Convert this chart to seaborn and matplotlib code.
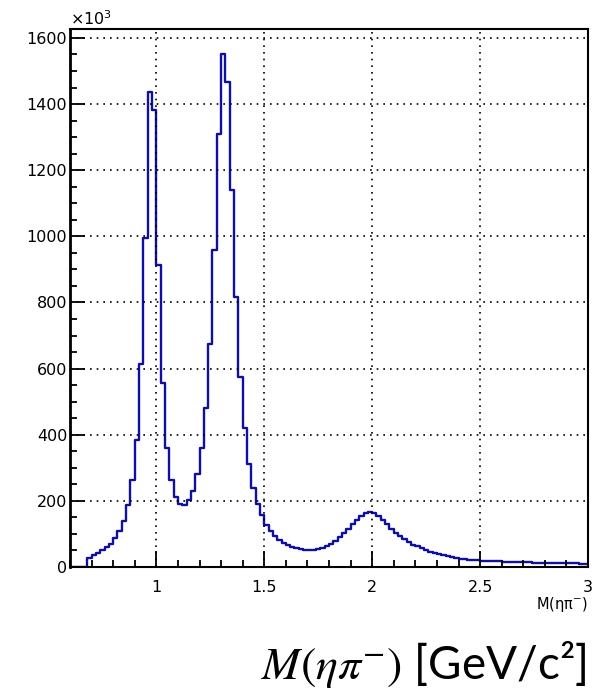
import numpy as np
import pandas as pd
import matplotlib
matplotlib.use("Agg")
import matplotlib.pyplot as plt
from matplotlib.ticker import MultipleLocator
import seaborn as sns

# ---- data (counts in units of 10^3, bins of 0.02 GeV from 0.60 to 3.00) ----
bin_lo = 0.60
bin_hi = 3.00
bin_w = 0.02
counts = [
    0, 0, 0, 0,
    28, 36, 43, 51, 60, 71, 88, 109, 139, 187, 262, 385,
    614, 995, 1435, 1382, 913, 555, 360, 264, 213, 192, 189, 202, 231, 280,
    359, 481, 674, 958, 1308, 1550, 1466, 1141, 817, 575, 419, 310, 240, 190,
    156, 128, 109,
    94, 82, 74, 66, 61, 57, 54, 52, 51, 52,
    54, 58, 63, 70, 79, 90, 102, 116, 130, 143,
    155, 162, 166, 162, 154, 142, 129, 115, 104, 94,
    84, 76, 68, 62, 56, 50, 46, 42, 38, 35,
    32, 29, 27, 25, 23, 22, 21, 20,
    19, 18.5, 18, 17.5, 17, 16.5, 16, 15.5, 15, 14.6, 14.2, 13.9, 13.6,
    13.3, 13, 12.7, 12.4, 12.1, 11.8, 11.5, 11.2, 11, 10.8, 10.5, 10.3,
]
x_ticks = [1, 1.5, 2, 2.5, 3]
x_tick_labels = ["1", "1.5", "2", "2.5", "3"]
y_ticks = [0, 200, 400, 600, 800, 1000, 1200, 1400, 1600]

n_bins = len(counts)
edges = [float(v) for v in bin_lo + bin_w * np.arange(n_bins + 1)]
centers = [0.5 * (a + b) for a, b in zip(edges[:-1], edges[1:])]
df = pd.DataFrame({"mass": centers, "count": counts})

sns.set_style("white")
plt.rcParams["font.family"] = ["DejaVu Sans"]
plt.rcParams["mathtext.fontset"] = "stix"
plt.rcParams["text.color"] = "black"
plt.rcParams["xtick.color"] = "black"
plt.rcParams["ytick.color"] = "black"

fig = plt.figure(figsize=(6.0, 6.92), dpi=100)
ax = fig.add_axes([70 / 600, 1 - 567 / 692, 518 / 600, 538 / 692])

line_color = "#1010a0"
sns.histplot(data=df, x="mass", weights="count", bins=edges, element="step",
             fill=False, color=line_color, linewidth=1.7, ax=ax)

ax.set_xlim(bin_lo, bin_hi)
ax.set_ylim(0, 1627)
ax.set_xlabel("")
ax.set_ylabel("")

ax.set_xticks(x_ticks)
ax.set_xticklabels(x_tick_labels)
ax.set_yticks(y_ticks)
ax.xaxis.set_minor_locator(MultipleLocator(0.1))
ax.yaxis.set_minor_locator(MultipleLocator(50))

ax.tick_params(axis="both", which="both", direction="in", colors="black",
               labelcolor="black",
               bottom=True, left=True, top=False, right=False, labelsize=11.5)
ax.tick_params(axis="x", which="major", length=11.5, width=1.3, pad=9)
ax.tick_params(axis="x", which="minor", length=5, width=1.3)
ax.tick_params(axis="y", which="major", length=11, width=1.3, pad=2)
ax.tick_params(axis="y", which="minor", length=5, width=1.3)

for side, sp in ax.spines.items():
    sp.set_visible(True)
    sp.set_color("black")
    sp.set_linewidth(1.5)
ax.spines["left"].set_linewidth(2.0)

ax.grid(True, which="major", linestyle=(0, (1, 3)), color="black",
        linewidth=1.2)
ax.set_axisbelow(False)

fig.text(70 / 600, 1 - 19 / 692, r"$\times$10$^{3}$", fontsize=11.5,
         ha="left", va="center", color="black",
         math_fontfamily="dejavusans")
fig.text(588 / 600, 1 - 605 / 692, "M(ηπ$^{-}$)", fontsize=10.5,
         ha="right", va="center", color="black",
         math_fontfamily="dejavusans")
fig.text(586 / 600, 1 - 664 / 692, r"$M(\eta\pi^{-})$ [GeV/c²]",
         fontsize=33, ha="right", va="center", color="black",
         family=["Lato", "DejaVu Sans"])

fig.savefig("out.png", dpi=100, facecolor="white")
